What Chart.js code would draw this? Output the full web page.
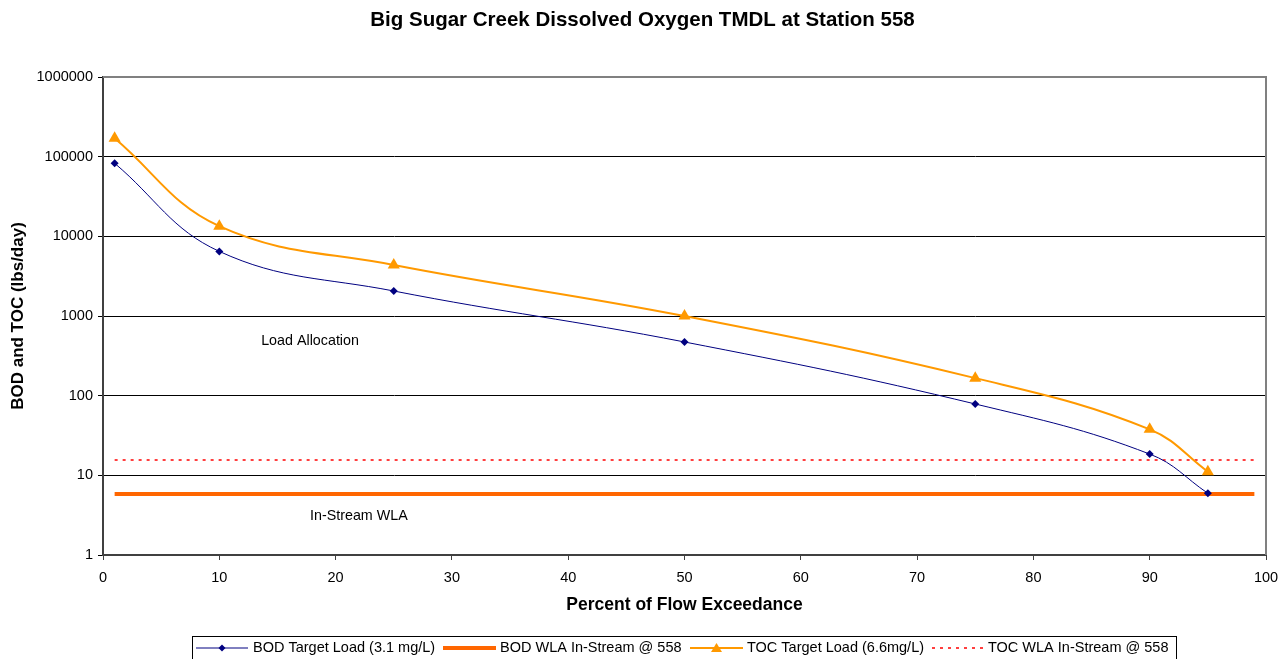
<!DOCTYPE html>
<html>
<head>
<meta charset="utf-8">
<script src="https://cdn.jsdelivr.net/npm/chart.js@4"></script>
<style>
  html, body { margin: 0; padding: 0; background: #fff; }
  #wrap { width: 1285px; height: 659px; }
</style>
</head>
<body>
<div id="wrap"><canvas id="myChart" width="1285" height="659"></canvas></div>
<script>
// data
const flowPct = [1, 10, 25, 50, 75, 90, 95]
const bodTarget = [82600, 6470, 2060, 472, 78.6, 18.5, 5.95]
const tocTarget = [170000, 13400, 4370, 1000, 166, 37.8, 11.1]
const wlaX = [1, 99]
const bodWla = [5.83, 5.83]
const tocWla = [15.6, 15.6]
const yTicks = [1, 10, 100, 1000, 10000, 100000, 1000000]
const xTicks = [0, 10, 20, 30, 40, 50, 60, 70, 80, 90, 100]

const FONT = "'Liberation Sans', Arial, sans-serif"
Chart.defaults.font.family = FONT
Chart.defaults.color = '#000'

const pts = (xs, ys) => xs.map((x, i) => ({ x: x, y: ys[i] }))

// grey frame round plot area
const frame = {
  id: 'frame',
  beforeDatasetsDraw(chart) {
    const { ctx, chartArea: a } = chart
    ctx.save()
    ctx.strokeStyle = '#808080'
    ctx.lineWidth = 2
    ctx.beginPath()
    ctx.moveTo(a.left, a.top)
    ctx.lineTo(a.right, a.top)
    ctx.lineTo(a.right, a.bottom)
    ctx.stroke()
    ctx.restore()
  }
}

// title, in-chart labels + boxed legend
const notes = {
  id: 'notes',
  afterDraw(chart) {
    const { ctx, scales } = chart
    const x = scales.x, y = scales.y
    ctx.save()
    ctx.fillStyle = '#000'
    ctx.textBaseline = 'middle'
    ctx.textAlign = 'center'
    ctx.font = 'bold 20.5px ' + FONT
    ctx.fillText('Big Sugar Creek Dissolved Oxygen TMDL at Station 558', chart.width / 2, 20)

    ctx.textAlign = 'left'
    ctx.font = '14.3px ' + FONT
    ctx.fillText('Load Allocation', x.getPixelForValue(13.6), y.getPixelForValue(485))
    ctx.fillText('In-Stream WLA', x.getPixelForValue(17.8), y.getPixelForValue(3.1))

    // legend box
    ctx.font = '14.5px ' + FONT
    ctx.strokeStyle = '#000'
    ctx.lineWidth = 1
    ctx.strokeRect(192.5, 636.5, 984, 30)
    const ly = 648
    const items = [
      { x0: 196, x1: 248, text: 'BOD Target Load (3.1 mg/L)', tx: 253, col: '#000080', w: 1, dash: [], mk: 'diamond' },
      { x0: 443, x1: 496, text: 'BOD WLA In-Stream @ 558', tx: 500, col: '#FF6600', w: 4, dash: [], mk: null },
      { x0: 690, x1: 743, text: 'TOC Target Load (6.6mg/L)', tx: 747, col: '#FF9900', w: 2, dash: [], mk: 'tri' },
      { x0: 932, x1: 986, text: 'TOC WLA In-Stream @ 558', tx: 988, col: '#FF0000', w: 1.5, dash: [3, 5], mk: null }
    ]
    items.forEach(it => {
      ctx.strokeStyle = it.col
      ctx.lineWidth = it.w
      ctx.setLineDash(it.dash)
      ctx.beginPath()
      ctx.moveTo(it.x0, ly)
      ctx.lineTo(it.x1, ly)
      ctx.stroke()
      ctx.setLineDash([])
      const cx = (it.x0 + it.x1) / 2
      ctx.fillStyle = it.col
      if (it.mk === 'diamond') {
        ctx.beginPath()
        ctx.moveTo(cx, ly - 3.5); ctx.lineTo(cx + 3.5, ly); ctx.lineTo(cx, ly + 3.5); ctx.lineTo(cx - 3.5, ly)
        ctx.closePath(); ctx.fill()
      } else if (it.mk === 'tri') {
        ctx.beginPath()
        ctx.moveTo(cx, ly - 5); ctx.lineTo(cx + 5.5, ly + 4); ctx.lineTo(cx - 5.5, ly + 4)
        ctx.closePath(); ctx.fill()
      }
      ctx.fillStyle = '#000'
      ctx.fillText(it.text, it.tx, ly)
    })
    ctx.restore()
  }
}

const ctx = document.getElementById('myChart').getContext('2d')
const myChart = new Chart(ctx, {
  type: 'scatter',
  data: {
    datasets: [
      {
        label: 'BOD Target Load (3.1 mg/L)',
        data: pts(flowPct, bodTarget),
        showLine: true,
        borderColor: '#000080',
        backgroundColor: '#000080',
        borderWidth: 1,
        tension: 0.4,
        pointStyle: 'rectRot',
        pointRadius: 4,
        pointBorderWidth: 0
      },
      {
        label: 'BOD WLA In-Stream @ 558',
        data: pts(wlaX, bodWla),
        showLine: true,
        borderColor: '#FF6600',
        backgroundColor: '#FF6600',
        borderWidth: 4,
        pointRadius: 0
      },
      {
        label: 'TOC Target Load (6.6mg/L)',
        data: pts(flowPct, tocTarget),
        showLine: true,
        borderColor: '#FF9900',
        backgroundColor: '#FF9900',
        borderWidth: 2,
        tension: 0.4,
        pointStyle: 'triangle',
        pointRadius: 7,
        pointBorderWidth: 0
      },
      {
        label: 'TOC WLA In-Stream @ 558',
        data: pts(wlaX, tocWla),
        showLine: true,
        borderColor: '#FF0000',
        backgroundColor: '#FF0000',
        borderWidth: 1.5,
        borderDash: [3, 5],
        pointRadius: 0
      }
    ]
  },
  options: {
    responsive: false,
    animation: false,
    layout: { padding: { left: 0, right: 19, top: 77, bottom: 43 } },
    plugins: {
      legend: { display: false },
      tooltip: { enabled: false },
      title: { display: false }
    },
    scales: {
      x: {
        type: 'linear',
        min: 0,
        max: 100,
        afterBuildTicks: s => { s.ticks = xTicks.map(v => ({ value: v })) },
        afterFit: s => { s.height = 61; s.paddingLeft = 0; s.paddingRight = 0 },
        grid: { drawOnChartArea: false, drawTicks: true, tickLength: 5, color: '#404040', lineWidth: 1 },
        border: { color: '#404040', width: 2 },
        ticks: { font: { size: 14.5 }, padding: 9, maxRotation: 0 },
        title: {
          display: true,
          text: 'Percent of Flow Exceedance',
          font: { size: 17.5, weight: 'bold' },
          padding: { top: 0, bottom: 0 }
        }
      },
      y: {
        type: 'logarithmic',
        min: 1,
        max: 1000000,
        afterBuildTicks: s => { s.ticks = yTicks.map(v => ({ value: v })) },
        afterFit: s => { s.width = 103 },
        grid: { color: '#000', lineWidth: 1, tickLength: 5 },
        border: { color: '#404040', width: 2 },
        ticks: { font: { size: 14.5 }, padding: 5, callback: v => String(v) },
        title: {
          display: true,
          text: 'BOD and TOC (lbs/day)',
          font: { size: 17, weight: 'bold' },
          padding: { top: 8, bottom: 0 }
        }
      }
    }
  },
  plugins: [frame, notes]
})
</script>
</body>
</html>
